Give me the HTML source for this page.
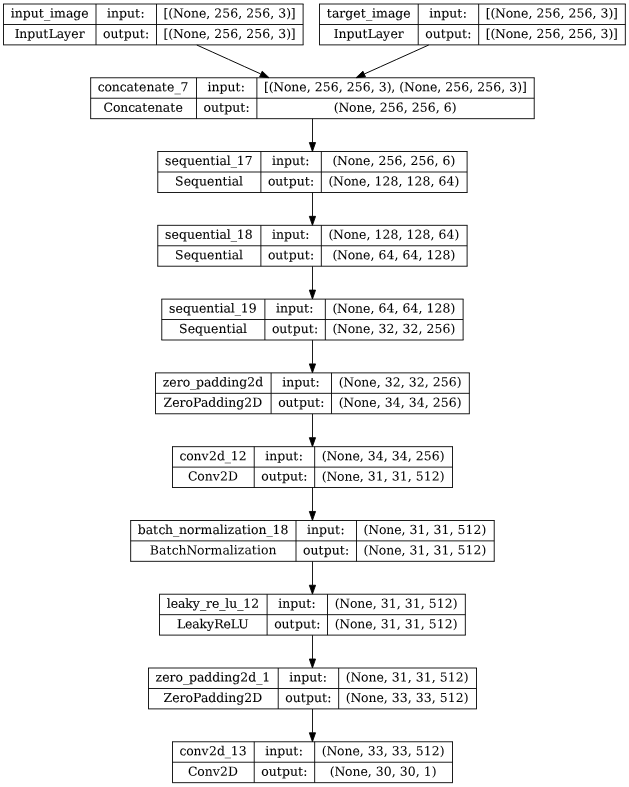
<!DOCTYPE html>
<html lang="en">
<head>
<meta charset="utf-8">
<title>Model plot</title>
<style>
html,body{margin:0;padding:0;background:#fff;}
body{width:629px;height:787px;overflow:hidden;}
svg{display:block;will-change:transform;}
.box,.edge{fill:none;stroke:#000;stroke-width:0.889;}
.arrow{fill:#000;stroke:#000;stroke-width:0.889;}
.diag{stroke-width:0.97;}
svg text{font-family:"DejaVu Serif","Liberation Serif",serif;font-size:12.4444px;fill:#000;white-space:pre;}
</style>
</head>
<body>
<svg width="629" height="787" viewBox="0 0 629 787">
<rect width="629" height="787" fill="#fff"/>
<g class="shapes">
<path class="box" d="M3.056 4H303.556M3.056 44.889H303.556M3.5 4V44.889M303.111 4V44.889M3.556 24.5H96M96 4V44.889M96 24.5H156.444M156.5 4V44.889M156.444 24.5H303.111"/>
<path class="box" d="M90.222 77.778H534.667M90.222 118.667H534.667M90.667 77.778V118.667M534.222 77.778V118.667M90.667 98.222H196.444M196.5 77.778V118.667M196.444 98.222H256.889M256.889 77.778V118.667M256.889 98.222H534.222"/>
<path class="box" d="M319.056 4H625.778M319.056 44.889H625.778M319.5 4V44.889M625.333 4V44.889M319.556 24.5H418.222M418.222 4V44.889M418.222 24.5H478.667M478.667 4V44.889M478.667 24.5H625.333"/>
<path class="box" d="M157.333 151.5H467.556M157.333 192.5H467.556M157.778 151.5V192.5M467.111 151.5V192.5M157.778 172H260.889M260.889 151.556V192.444M260.889 172H321.333M321.333 151.556V192.444M321.333 172H467.111"/>
<path class="box" d="M157.333 225.333H467.556M157.333 266.222H467.556M157.778 225.333V266.222M467.111 225.333V266.222M157.778 245.778H260.889M260.889 225.333V266.222M260.889 245.778H321.333M321.333 225.333V266.222M321.333 245.778H467.111"/>
<path class="box" d="M161.333 299.111H463.556M161.333 340H463.556M161.778 299.111V340M463.111 299.111V340M161.778 319.5H264.889M264.889 299.111V340M264.889 319.5H325.333M325.333 299.111V340M325.333 319.5H463.111"/>
<path class="box" d="M155.056 372.889H469.778M155.056 413.778H469.778M155.5 372.889V413.778M469.333 372.889V413.778M155.556 393.333H271.111M271.111 372.889V413.778M271.111 393.333H331.556M331.5 372.889V413.778M331.556 393.333H469.333"/>
<path class="box" d="M172.056 446.667H452.944M172.056 487.5H452.944M172.5 446.667V487.5M452.5 446.667V487.5M172.444 467.111H254.222M254.222 446.667V487.556M254.222 467.111H314.667M314.667 446.667V487.556M314.667 467.111H452.444"/>
<path class="box" d="M130.222 520.5H494.667M130.222 561.333H494.667M130.667 520.5V561.333M494.222 520.5V561.333M130.667 540.889H296M296 520.444V561.333M296 540.889H356.444M356.5 520.444V561.333M356.444 540.889H494.222"/>
<path class="box" d="M159.056 594.222H465.778M159.056 635.111H465.778M159.5 594.222V635.111M465.333 594.222V635.111M159.556 614.667H267.111M267.111 594.222V635.111M267.111 614.667H327.556M327.5 594.222V635.111M327.556 614.667H465.333"/>
<path class="box" d="M148.056 668H476.944M148.056 708.889H476.944M148.5 668V708.889M476.5 668V708.889M148.444 688.5H278.222M278.222 668V708.889M278.222 688.5H338.667M338.667 668V708.889M338.667 688.5H476.444"/>
<path class="box" d="M172.056 741.778H452.944M172.056 782.667H452.944M172.5 741.778V782.667M452.5 741.778V782.667M172.444 762.222H254.222M254.222 741.778V782.667M254.222 762.222H314.667M314.667 741.778V782.667M314.667 762.222H452.444"/>
<path class="edge diag" d="M196.809 45.004C216.542 53.938 240.036 64.569 260.667 73.902"/>
<polygon class="arrow" points="262.204,71.182 269.022,77.68 259.636,76.853 262.204,71.182"/>
<path class="edge diag" d="M428.72 45.004C408.791 53.973 385.049 64.658 364.231 74.027"/>
<polygon class="arrow" points="365.493,76.871 356.116,77.68 362.942,71.2 365.493,76.871"/>
<path class="edge" d="M312.5 118.782V142.462"/>
<polygon class="arrow" points="315.556,142.569 312.444,151.458 309.333,142.569 315.556,142.569"/>
<path class="edge" d="M312.5 192.56V216.24"/>
<polygon class="arrow" points="315.556,216.347 312.444,225.236 309.333,216.347 315.556,216.347"/>
<path class="edge" d="M312.5 266.338V290.018"/>
<polygon class="arrow" points="315.556,290.124 312.444,299.013 309.333,290.124 315.556,290.124"/>
<path class="edge" d="M312.5 340.116V363.796"/>
<polygon class="arrow" points="315.556,363.902 312.444,372.791 309.333,363.902 315.556,363.902"/>
<path class="edge" d="M312.5 413.893V437.573"/>
<polygon class="arrow" points="315.556,437.68 312.444,446.569 309.333,437.68 315.556,437.68"/>
<path class="edge" d="M312.5 487.671V511.351"/>
<polygon class="arrow" points="315.556,511.458 312.444,520.347 309.333,511.458 315.556,511.458"/>
<path class="edge" d="M312.5 561.449V585.129"/>
<polygon class="arrow" points="315.556,585.236 312.444,594.124 309.333,585.236 315.556,585.236"/>
<path class="edge" d="M312.5 635.227V658.907"/>
<polygon class="arrow" points="315.556,659.013 312.444,667.902 309.333,659.013 315.556,659.013"/>
<path class="edge" d="M312.5 709.004V732.684"/>
<polygon class="arrow" points="315.556,732.791 312.444,741.68 309.333,732.791 315.556,732.791"/>
</g>
<g class="labels">
<text transform="rotate(-0.04 46 17.51)" stroke="#000" stroke-width="0.11" x="10.67 14.67 22.67 30.67 38.67 44 50 54 66 73.33 81.33" y="17.51">input_image</text>
<text transform="rotate(-0.04 46.67 37.96)" stroke="#000" stroke-width="0.11" x="14.67 19.33 27.33 35.33 43.33 48.67 56.67 64 71.33 78.67" y="37.96">InputLayer</text>
<text transform="rotate(-0.04 123.78 17.51)" stroke="#000" stroke-width="0.1" x="107.11 111.11 119.11 127.11 135.11 140.44" y="17.51">input:</text>
<text transform="rotate(-0.04 124.11 37.96)" stroke="#000" stroke-width="0.09" x="103.11 110.44 118.44 123.78 131.78 139.78 145.11" y="37.96">output:</text>
<text transform="rotate(-0.04 227.22 17.51)" stroke="#000" stroke-width="0.04" x="163.55 168.22 172.89 183.55 190.89 198.89 206.22 210.22 214.22 222.22 230.22 238.22 242.22 246.22 254.22 262.22 270.22 274.22 278.22 286.22 290.89" y="17.51">[(None, 256, 256, 3)]</text>
<text transform="rotate(-0.04 227.22 37.96)" stroke="#000" stroke-width="0.04" x="163.55 168.22 172.89 183.55 190.89 198.89 206.22 210.22 214.22 222.22 230.22 238.22 242.22 246.22 254.22 262.22 270.22 274.22 278.22 286.22 290.89" y="37.96">[(None, 256, 256, 3)]</text>
<text transform="rotate(-0.04 139.11 91.29)" stroke="#000" stroke-width="0.08" x="97.78 104.44 111.78 119.78 126.44 133.78 139.11 146.44 154.44 161.78 167.11 174.44 180.44" y="91.29">concatenate_7</text>
<text transform="rotate(-0.04 139.55 111.73)" stroke="#000" stroke-width="0.1" x="103.55 112.89 120.22 128.22 134.89 142.22 147.55 154.89 162.89 170.22 175.55" y="111.73">Concatenate</text>
<text transform="rotate(-0.04 224.22 91.29)" stroke="#000" stroke-width="0.08" x="207.55 211.55 219.55 227.55 235.55 240.89" y="91.29">input:</text>
<text transform="rotate(-0.04 224.55 111.73)" stroke="#000" stroke-width="0.11" x="203.55 210.89 218.89 224.22 232.22 240.22 245.55" y="111.73">output:</text>
<text transform="rotate(-0.04 393 91.29)" stroke="#000" stroke-width="0.04" x="264 268.67 273.33 284 291.33 299.33 306.67 310.67 314.67 322.67 330.67 338.67 342.67 346.67 354.67 362.67 370.67 374.67 378.67 386.67 391.33 395.33 399.33 404 414.67 422 430 437.33 441.33 445.33 453.33 461.33 469.33 473.33 477.33 485.33 493.33 501.33 505.33 509.33 517.33 522" y="91.29">[(None, 256, 256, 3), (None, 256, 256, 3)]</text>
<text transform="rotate(-0.04 392.78 111.73)" stroke="#000" stroke-width="0.05" x="333.78 338.44 349.11 356.44 364.44 371.78 375.78 379.78 387.78 395.78 403.78 407.78 411.78 419.78 427.78 435.78 439.78 443.78 451.78" y="111.73">(None, 256, 256, 6)</text>
<text transform="rotate(-0.04 365 17.51)" stroke="#000" stroke-width="0.11" x="326.67 332 339.33 345.33 353.33 360.67 366 372 376 388 395.33 403.33" y="17.51">target_image</text>
<text transform="rotate(-0.04 365.78 37.96)" stroke="#000" stroke-width="0.1" x="333.78 338.44 346.44 354.44 362.44 367.78 375.78 383.11 390.44 397.78" y="37.96">InputLayer</text>
<text transform="rotate(-0.04 446 17.51)" stroke="#000" stroke-width="0.1" x="429.33 433.33 441.33 449.33 457.33 462.67" y="17.51">input:</text>
<text transform="rotate(-0.04 446.33 37.96)" stroke="#000" stroke-width="0.09" x="425.33 432.67 440.67 446 454 462 467.33" y="37.96">output:</text>
<text transform="rotate(-0.04 549.44 17.51)" stroke="#000" stroke-width="0.04" x="485.78 490.44 495.11 505.78 513.11 521.11 528.44 532.44 536.44 544.44 552.44 560.44 564.44 568.44 576.44 584.44 592.44 596.44 600.44 608.44 613.11" y="17.51">[(None, 256, 256, 3)]</text>
<text transform="rotate(-0.04 549.44 37.96)" stroke="#000" stroke-width="0.04" x="485.78 490.44 495.11 505.78 513.11 521.11 528.44 532.44 536.44 544.44 552.44 560.44 564.44 568.44 576.44 584.44 592.44 596.44 600.44 608.44 613.11" y="37.96">[(None, 256, 256, 3)]</text>
<text transform="rotate(-0.04 204.89 165.07)" stroke="#000" stroke-width="0.09" x="164.89 171.56 178.89 186.89 194.89 202.22 210.22 215.56 219.56 226.89 230.89 236.89 244.89" y="165.07">sequential_17</text>
<text transform="rotate(-0.04 207.11 185.51)" stroke="#000" stroke-width="0.09" x="175.11 183.78 191.11 199.11 207.11 214.44 222.44 227.78 231.78 239.11" y="185.51">Sequential</text>
<text transform="rotate(-0.04 288.67 165.07)" stroke="#000" stroke-width="0.1" x="272 276 284 292 300 305.33" y="165.07">input:</text>
<text transform="rotate(-0.04 289 185.51)" stroke="#000" stroke-width="0.1" x="268 275.33 283.33 288.67 296.67 304.67 310" y="185.51">output:</text>
<text transform="rotate(-0.04 391.45 165.07)" stroke="#000" stroke-width="0.05" x="332.45 337.11 347.78 355.11 363.11 370.45 374.45 378.45 386.45 394.45 402.45 406.45 410.45 418.45 426.45 434.45 438.45 442.45 450.45" y="165.07">(None, 256, 256, 6)</text>
<text transform="rotate(-0.04 391.45 185.51)" stroke="#000" stroke-width="0.04" x="328.45 333.11 343.78 351.11 359.11 366.45 370.45 374.45 382.45 390.45 398.45 402.45 406.45 414.45 422.45 430.45 434.45 438.45 446.45 454.45" y="185.51">(None, 128, 128, 64)</text>
<text transform="rotate(-0.04 204.89 238.84)" stroke="#000" stroke-width="0.11" x="164.89 171.56 178.89 186.89 194.89 202.22 210.22 215.56 219.56 226.89 230.89 236.89 244.89" y="238.84">sequential_18</text>
<text transform="rotate(-0.04 207.11 259.29)" stroke="#000" stroke-width="0.08" x="175.11 183.78 191.11 199.11 207.11 214.44 222.44 227.78 231.78 239.11" y="259.29">Sequential</text>
<text transform="rotate(-0.04 288.67 238.84)" stroke="#000" stroke-width="0.11" x="272 276 284 292 300 305.33" y="238.84">input:</text>
<text transform="rotate(-0.04 289 259.29)" stroke="#000" stroke-width="0.09" x="268 275.33 283.33 288.67 296.67 304.67 310" y="259.29">output:</text>
<text transform="rotate(-0.04 391.45 238.84)" stroke="#000" stroke-width="0.04" x="328.45 333.11 343.78 351.11 359.11 366.45 370.45 374.45 382.45 390.45 398.45 402.45 406.45 414.45 422.45 430.45 434.45 438.45 446.45 454.45" y="238.84">(None, 128, 128, 64)</text>
<text transform="rotate(-0.04 391.45 259.29)" stroke="#000" stroke-width="0.05" x="332.45 337.11 347.78 355.11 363.11 370.45 374.45 378.45 386.45 394.45 398.45 402.45 410.45 418.45 422.45 426.45 434.45 442.45 450.45" y="259.29">(None, 64, 64, 128)</text>
<text transform="rotate(-0.04 208.89 312.62)" stroke="#000" stroke-width="0.1" x="168.89 175.56 182.89 190.89 198.89 206.22 214.22 219.56 223.56 230.89 234.89 240.89 248.89" y="312.62">sequential_19</text>
<text transform="rotate(-0.04 211.11 333.07)" stroke="#000" stroke-width="0.09" x="179.11 187.78 195.11 203.11 211.11 218.44 226.44 231.78 235.78 243.11" y="333.07">Sequential</text>
<text transform="rotate(-0.04 292.67 312.62)" stroke="#000" stroke-width="0.1" x="276 280 288 296 304 309.33" y="312.62">input:</text>
<text transform="rotate(-0.04 293 333.07)" stroke="#000" stroke-width="0.09" x="272 279.33 287.33 292.67 300.67 308.67 314" y="333.07">output:</text>
<text transform="rotate(-0.04 391.45 312.62)" stroke="#000" stroke-width="0.05" x="332.45 337.11 347.78 355.11 363.11 370.45 374.45 378.45 386.45 394.45 398.45 402.45 410.45 418.45 422.45 426.45 434.45 442.45 450.45" y="312.62">(None, 64, 64, 128)</text>
<text transform="rotate(-0.04 391.45 333.07)" stroke="#000" stroke-width="0.03" x="332.45 337.11 347.78 355.11 363.11 370.45 374.45 378.45 386.45 394.45 398.45 402.45 410.45 418.45 422.45 426.45 434.45 442.45 450.45" y="333.07">(None, 32, 32, 256)</text>
<text transform="rotate(-0.04 209 386.4)" stroke="#000" stroke-width="0.09" x="162.67 169.33 176.67 182.67 190 196 204 211.33 219.33 227.33 231.33 239.33 247.33 255.33" y="386.4">zero_padding2d</text>
<text transform="rotate(-0.04 207.89 406.84)" stroke="#000" stroke-width="0.09" x="163.55 172.22 179.55 185.55 192.89 200.89 208.22 216.22 224.22 228.22 236.22 244.22 252.22" y="406.84">ZeroPadding2D</text>
<text transform="rotate(-0.04 298.89 386.4)" stroke="#000" stroke-width="0.1" x="282.22 286.22 294.22 302.22 310.22 315.56" y="386.4">input:</text>
<text transform="rotate(-0.04 299.22 406.84)" stroke="#000" stroke-width="0.1" x="278.22 285.56 293.56 298.89 306.89 314.89 320.22" y="406.84">output:</text>
<text transform="rotate(-0.04 397.67 386.4)" stroke="#000" stroke-width="0.03" x="338.67 343.33 354 361.33 369.33 376.67 380.67 384.67 392.67 400.67 404.67 408.67 416.67 424.67 428.67 432.67 440.67 448.67 456.67" y="386.4">(None, 32, 32, 256)</text>
<text transform="rotate(-0.04 397.67 406.84)" stroke="#000" stroke-width="0.04" x="338.67 343.33 354 361.33 369.33 376.67 380.67 384.67 392.67 400.67 404.67 408.67 416.67 424.67 428.67 432.67 440.67 448.67 456.67" y="406.84">(None, 34, 34, 256)</text>
<text transform="rotate(-0.04 209.22 460.18)" stroke="#000" stroke-width="0.05" x="179.55 186.22 193.55 201.55 208.89 216.89 224.89 230.89 238.89" y="460.18">conv2d_12</text>
<text transform="rotate(-0.04 208 480.62)" stroke="#000" stroke-width="0.03" x="188 197.33 204.67 212.67 220 228" y="480.62">Conv2D</text>
<text transform="rotate(-0.04 282 460.18)" stroke="#000" stroke-width="0.1" x="265.33 269.33 277.33 285.33 293.33 298.67" y="460.18">input:</text>
<text transform="rotate(-0.04 282.33 480.62)" stroke="#000" stroke-width="0.1" x="261.33 268.67 276.67 282 290 298 303.33" y="480.62">output:</text>
<text transform="rotate(-0.04 380.78 460.18)" stroke="#000" stroke-width="0.04" x="321.78 326.44 337.11 344.44 352.44 359.78 363.78 367.78 375.78 383.78 387.78 391.78 399.78 407.78 411.78 415.78 423.78 431.78 439.78" y="460.18">(None, 34, 34, 256)</text>
<text transform="rotate(-0.04 380.78 480.62)" stroke="#000" stroke-width="0.03" x="321.78 326.44 337.11 344.44 352.44 359.78 363.78 367.78 375.78 383.78 387.78 391.78 399.78 407.78 411.78 415.78 423.78 431.78 439.78" y="480.62">(None, 31, 31, 512)</text>
<text transform="rotate(-0.04 209.11 533.96)" stroke="#000" stroke-width="0.1" x="137.78 145.78 153.11 158.44 165.11 173.11 179.11 187.11 194.44 200.44 212.44 219.78 223.78 227.78 234.44 241.78 247.11 251.11 258.44 266.44 272.44 280.44" y="533.96">batch_normalization_18</text>
<text transform="rotate(-0.04 209.11 554.4)" x="149.78 159.11 166.44 171.78 178.44 186.44 197.11 204.44 210.44 222.44 229.78 233.78 237.78 244.44 251.78 257.11 261.11 268.44" y="554.4">BatchNormalization</text>
<text transform="rotate(-0.04 323.78 533.96)" stroke="#000" stroke-width="0.1" x="307.11 311.11 319.11 327.11 335.11 340.44" y="533.96">input:</text>
<text transform="rotate(-0.04 324.11 554.4)" stroke="#000" stroke-width="0.1" x="303.11 310.44 318.44 323.78 331.78 339.78 345.11" y="554.4">output:</text>
<text transform="rotate(-0.04 422.55 533.96)" stroke="#000" stroke-width="0.03" x="363.55 368.22 378.89 386.22 394.22 401.55 405.55 409.55 417.55 425.55 429.55 433.55 441.55 449.55 453.55 457.55 465.55 473.55 481.55" y="533.96">(None, 31, 31, 512)</text>
<text transform="rotate(-0.04 422.55 554.4)" stroke="#000" stroke-width="0.02" x="363.55 368.22 378.89 386.22 394.22 401.55 405.55 409.55 417.55 425.55 429.55 433.55 441.55 449.55 453.55 457.55 465.55 473.55 481.55" y="554.4">(None, 31, 31, 512)</text>
<text transform="rotate(-0.04 209 607.73)" stroke="#000" stroke-width="0.13" x="166.67 170.67 178 185.33 192.67 200 206 212 219.33 225.33 229.33 237.33 243.33 251.33" y="607.73">leaky_re_lu_12</text>
<text transform="rotate(-0.04 207.56 628.18)" stroke="#000" stroke-width="0.1" x="176.89 184.89 192.22 199.56 206.89 214.22 223.56 230.89 238.22" y="628.18">LeakyReLU</text>
<text transform="rotate(-0.04 294.89 607.73)" stroke="#000" stroke-width="0.11" x="278.22 282.22 290.22 298.22 306.22 311.56" y="607.73">input:</text>
<text transform="rotate(-0.04 295.22 628.18)" stroke="#000" stroke-width="0.09" x="274.22 281.56 289.56 294.89 302.89 310.89 316.22" y="628.18">output:</text>
<text transform="rotate(-0.04 393.67 607.73)" stroke="#000" stroke-width="0.03" x="334.67 339.33 350 357.33 365.33 372.67 376.67 380.67 388.67 396.67 400.67 404.67 412.67 420.67 424.67 428.67 436.67 444.67 452.67" y="607.73">(None, 31, 31, 512)</text>
<text transform="rotate(-0.04 393.67 628.18)" stroke="#000" stroke-width="0.03" x="334.67 339.33 350 357.33 365.33 372.67 376.67 380.67 388.67 396.67 400.67 404.67 412.67 420.67 424.67 428.67 436.67 444.67 452.67" y="628.18">(None, 31, 31, 512)</text>
<text transform="rotate(-0.04 208.89 681.51)" stroke="#000" stroke-width="0.1" x="155.55 162.22 169.55 175.55 182.89 188.89 196.89 204.22 212.22 220.22 224.22 232.22 240.22 248.22 256.22 262.22" y="681.51">zero_padding2d_1</text>
<text transform="rotate(-0.04 207.89 701.96)" stroke="#000" stroke-width="0.09" x="163.55 172.22 179.55 185.55 192.89 200.89 208.22 216.22 224.22 228.22 236.22 244.22 252.22" y="701.96">ZeroPadding2D</text>
<text transform="rotate(-0.04 306 681.51)" stroke="#000" stroke-width="0.1" x="289.33 293.33 301.33 309.33 317.33 322.67" y="681.51">input:</text>
<text transform="rotate(-0.04 306.33 701.96)" stroke="#000" stroke-width="0.09" x="285.33 292.67 300.67 306 314 322 327.33" y="701.96">output:</text>
<text transform="rotate(-0.04 404.78 681.51)" stroke="#000" stroke-width="0.03" x="345.78 350.44 361.11 368.44 376.44 383.78 387.78 391.78 399.78 407.78 411.78 415.78 423.78 431.78 435.78 439.78 447.78 455.78 463.78" y="681.51">(None, 31, 31, 512)</text>
<text transform="rotate(-0.04 404.78 701.96)" stroke="#000" stroke-width="0.03" x="345.78 350.44 361.11 368.44 376.44 383.78 387.78 391.78 399.78 407.78 411.78 415.78 423.78 431.78 435.78 439.78 447.78 455.78 463.78" y="701.96">(None, 33, 33, 512)</text>
<text transform="rotate(-0.04 209.22 755.29)" stroke="#000" stroke-width="0.05" x="179.55 186.22 193.55 201.55 208.89 216.89 224.89 230.89 238.89" y="755.29">conv2d_13</text>
<text transform="rotate(-0.04 208 775.73)" stroke="#000" stroke-width="0.05" x="188 197.33 204.67 212.67 220 228" y="775.73">Conv2D</text>
<text transform="rotate(-0.04 282 755.29)" stroke="#000" stroke-width="0.1" x="265.33 269.33 277.33 285.33 293.33 298.67" y="755.29">input:</text>
<text transform="rotate(-0.04 282.33 775.73)" stroke="#000" stroke-width="0.11" x="261.33 268.67 276.67 282 290 298 303.33" y="775.73">output:</text>
<text transform="rotate(-0.04 380.78 755.29)" stroke="#000" stroke-width="0.02" x="321.78 326.44 337.11 344.44 352.44 359.78 363.78 367.78 375.78 383.78 387.78 391.78 399.78 407.78 411.78 415.78 423.78 431.78 439.78" y="755.29">(None, 33, 33, 512)</text>
<text transform="rotate(-0.04 380.78 775.73)" stroke="#000" stroke-width="0.03" x="329.78 334.44 345.11 352.44 360.44 367.78 371.78 375.78 383.78 391.78 395.78 399.78 407.78 415.78 419.78 423.78 431.78" y="775.73">(None, 30, 30, 1)</text>
</g>
</svg>
</body>
</html>
